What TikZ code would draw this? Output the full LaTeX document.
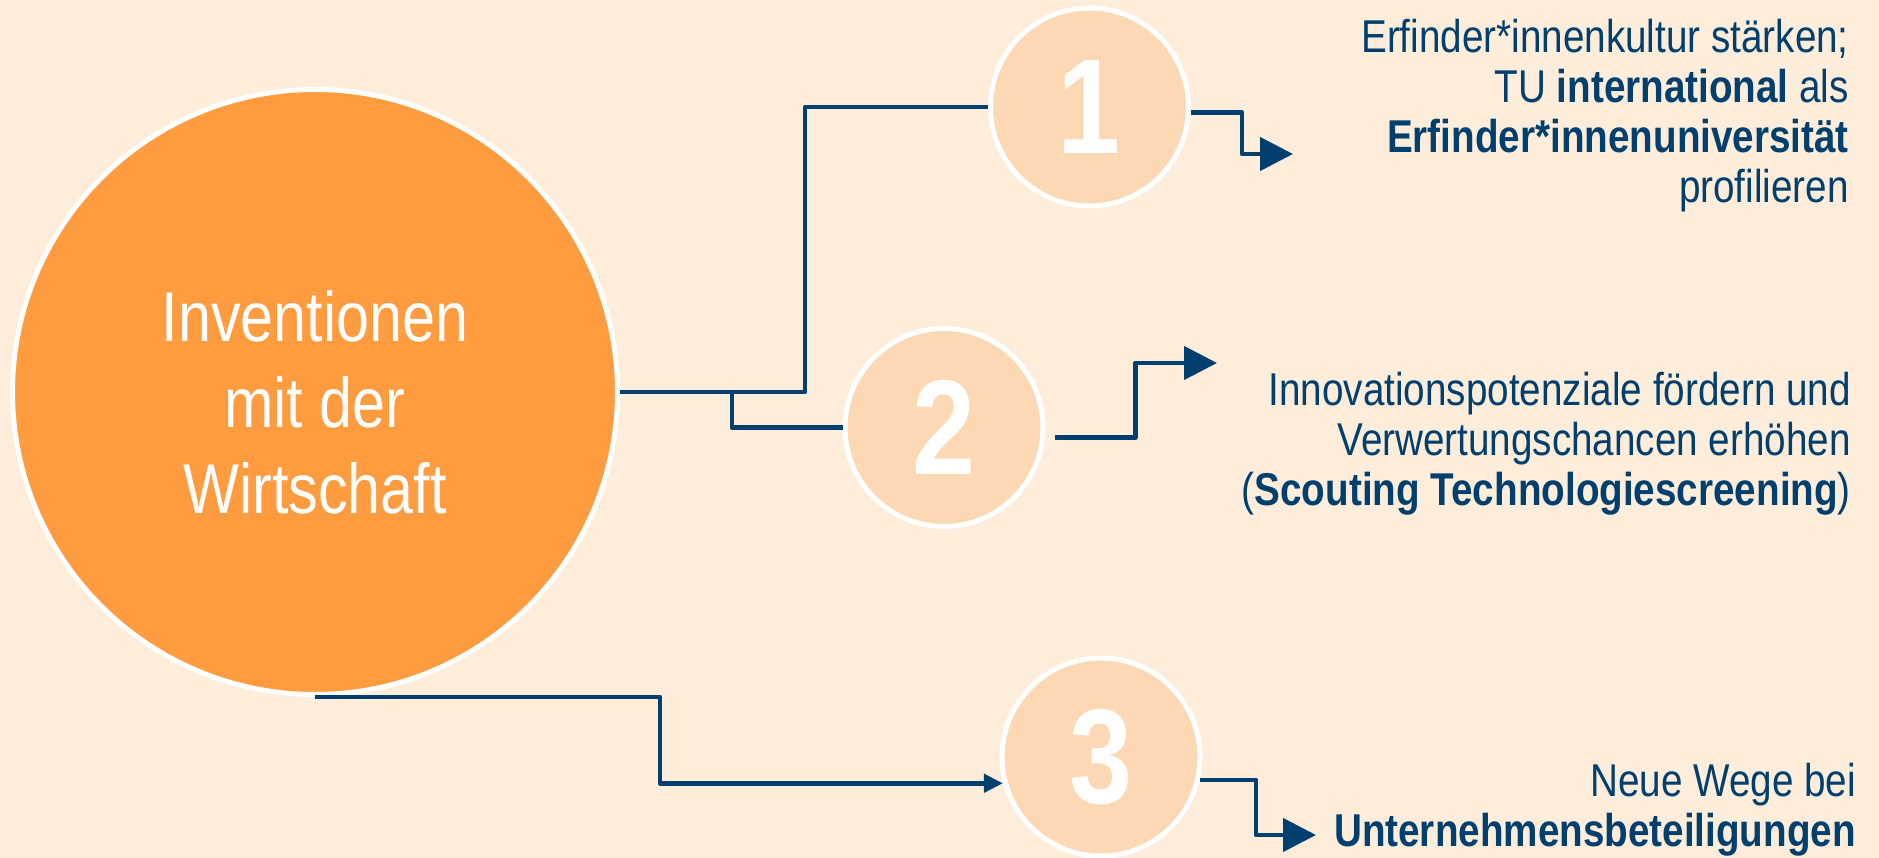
\documentclass[tikz,border=0pt]{standalone}
\usepackage{fontspec}
\setmainfont{Liberation Sans}[FakeStretch=0.84]
\usetikzlibrary{arrows.meta}
\definecolor{bgPeach}{HTML}{FEEDDA}
\definecolor{ringPeach}{HTML}{FDD8B4}
\definecolor{coreOrange}{HTML}{FF9C40}
\definecolor{tuNavy}{HTML}{003F6E}

\begin{document}
\begin{tikzpicture}[x=1pt, y=-1pt,
		core/.style={circle, fill=coreOrange, draw=white, line width=5pt, minimum size=605pt, inner sep=0pt},
		goal/.style={circle, fill=ringPeach, draw=white, line width=5pt, minimum size=198pt, inner sep=0pt, text=white, font=\bfseries\fontsize{135}{135}\selectfont},
		aim/.style={align=right, anchor=base east, inner sep=0pt, text=tuNavy, font=\fontsize{46}{50}\selectfont},
		link/.style={draw=tuNavy, line width=4.5pt, line join=round},
		tip/.style={-{Triangle[length=33pt, width=33pt]}}]
		%%%%%%%%%%%%%
		\fill[bgPeach] (0,0) rectangle (1879,858);
		\useasboundingbox (0,0) rectangle (1879,858);
		%%%%%%%%%%%%%
		\node[core] (core) at (315,392) {};
		\node[align=center, text=white, font=\fontsize{70.5}{86}\selectfont] (title) at (315,402) {Inventionen\\mit der\\Wirtschaft};
		\node[goal] (g1) at (1089.5,107) {1};
		\node[goal] (g2) at (944,427.5) {2};
		\node[goal] (g3) at (1101,757) {3};
		\coordinate (fork) at (805,392); \coordinate (split) at (732,392);
		\coordinate (tip1) at (1293,154); \coordinate (tip2) at (1217,363); \coordinate (tip3) at (1316,835);
		%%%%%%%%%%%%%
		% base east = baseline of the last line
		\node[aim] (aim1) at (1849,203) {Erfinder*innenkultur stärken;\\TU \textbf{international} als\\\textbf{Erfinder*innenuniversität}\\profilieren};
		\node[aim] (aim2) at (1851,505) {Innovationspotenziale fördern und\\Verwertungschancen erhöhen\\(\textbf{Scouting Technologiescreening})};
		\node[aim] (aim3) at (1856,846) {Neue Wege bei\\\textbf{Unternehmensbeteiligungen}};
		%%%%%%%%%%%%%
		\draw[link] (core.east) -- (fork) |- (g1.west); \draw[link] (split) |- (g2.west);
		\draw[link, -{Triangle[length=19pt, width=18pt]}] (core.south) -- ++(345,0) |- (g3.195);
		\draw[link, tip] (g1.-3) -- ++(51,0) |- (tip1);
		\draw[link, tip] ([xshift=9pt, yshift=-10pt]g2.east) -- ++(81,0) |- (tip2);
		\draw[link, tip] (g3.-13) -- ++(56,0) |- (tip3);
\end{tikzpicture}
\end{document}
